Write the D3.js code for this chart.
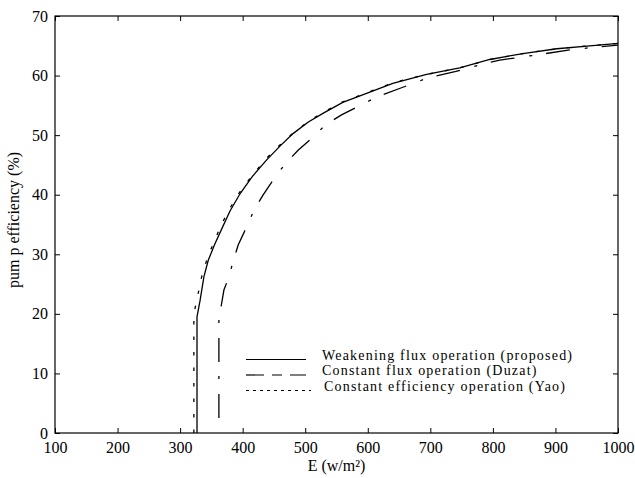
<!DOCTYPE html>
<html>
<head>
<meta charset="utf-8">
<script src="https://cdn.jsdelivr.net/npm/d3@7"></script>
<style>
  body { margin: 0; background: #fff; }
  text { font-family: "Liberation Serif", "Times New Roman", serif; }
</style>
</head>
<body>
<div class="canva"></div>
<script>
// irradiance E (w/m2) and pump efficiency (%)
var proposedE   = [327, 327, 332, 338, 345, 355, 368, 380, 396, 415, 438, 460, 481, 505, 529, 560, 598, 640, 694, 747, 795, 848, 902, 955, 1000];
var proposedEff = [0, 19.5, 22.3, 26.2, 29.0, 31.6, 34.6, 37.3, 40.2, 43.0, 45.8, 48.2, 50.3, 52.2, 53.7, 55.5, 57.0, 58.7, 60.2, 61.3, 62.7, 63.7, 64.5, 65.0, 65.4];

var duzatE   = [362, 362, 366, 370, 378, 385, 393, 409, 418, 433, 452, 469, 489, 516, 532, 558, 590, 614, 655, 696, 741, 783, 811, 872, 923, 966, 1000];
var duzatEff = [2.5, 19.8, 21.5, 24.0, 26.2, 28.9, 31.6, 35.2, 37.4, 40.0, 43.0, 45.3, 47.5, 50.0, 51.7, 53.4, 55.1, 56.4, 58.0, 59.6, 60.7, 61.9, 62.6, 63.5, 64.3, 64.8, 65.1];

var yaoE   = [322, 322, 328, 335, 345, 356, 366, 380, 395, 415, 437, 460, 481, 505, 530, 560, 598, 640, 694, 747, 795, 848, 902, 955, 1000];
var yaoEff = [0, 20.0, 23.0, 26.5, 29.8, 32.5, 35.0, 37.8, 40.4, 43.2, 46.0, 48.4, 50.4, 52.3, 53.9, 55.6, 57.1, 58.8, 60.2, 61.3, 62.7, 63.7, 64.5, 65.0, 65.4];

var xTicks = [100, 200, 300, 400, 500, 600, 700, 800, 900, 1000];
var yTicks = [0, 10, 20, 30, 40, 50, 60, 70];

var legendLabels = ["Weakening flux operation (proposed)",
                    "Constant flux operation (Duzat)",
                    "Constant efficiency operation (Yao)"];

const width = 635, height = 478;
const margin = {top: 16, right: 17, bottom: 45, left: 55};
const graphWidth = width - margin.left - margin.right;
const graphHeight = height - margin.top - margin.bottom;

const svg = d3.select(".canva").append("svg")
    .attr("width", width)
    .attr("height", height);

const g = svg.append("g")
    .attr("transform", `translate(${margin.left}, ${margin.top})`);

var x = d3.scaleLinear().domain([100, 1000]).range([0, graphWidth]);
var y = d3.scaleLinear().domain([0, 70]).range([graphHeight, 0]);

// axes, ticks pointing inward on all four sides
g.append("g")
    .attr("transform", `translate(0, ${graphHeight})`)
    .call(d3.axisBottom(x).tickValues(xTicks).tickFormat(d3.format("d"))
            .tickSizeInner(-5).tickSizeOuter(0).tickPadding(9))
    .call(a => a.select(".domain").remove());
g.append("g")
    .call(d3.axisTop(x).tickValues(xTicks).tickSizeInner(-5).tickSizeOuter(0).tickFormat(""))
    .call(a => a.select(".domain").remove());
g.append("g")
    .call(d3.axisLeft(y).tickValues(yTicks).tickSizeInner(-5).tickSizeOuter(0).tickPadding(7))
    .call(a => a.select(".domain").remove());
g.append("g")
    .attr("transform", `translate(${graphWidth}, 0)`)
    .call(d3.axisRight(y).tickValues(yTicks).tickSizeInner(-5).tickSizeOuter(0).tickFormat(""))
    .call(a => a.select(".domain").remove());

g.selectAll(".tick text")
    .attr("fill", "#000")
    .style("font-size", "16px")
    .style("font-family", "'Liberation Serif', serif");
g.selectAll(".tick line").attr("stroke", "#000");

g.append("rect")
    .attr("width", graphWidth)
    .attr("height", graphHeight)
    .attr("fill", "none")
    .attr("stroke", "#000")
    .attr("stroke-width", 1.2);

// curves
var series = [
  {E: proposedE, eff: proposedEff, dash: null},
  {E: duzatE, eff: duzatEff, dash: "24,15,3,14"},
  {E: yaoE, eff: yaoEff, dash: "3.5,12"}
];

var valueLine = d3.line()
    .x(d => x(d[0]))
    .y(d => y(d[1]));

series.forEach(function(s) {
  g.append("path")
    .datum(s.E.map((e, i) => [e, s.eff[i]]))
    .attr("fill", "none")
    .attr("stroke", "#000")
    .attr("stroke-width", 1.3)
    .attr("stroke-dasharray", s.dash)
    .attr("d", valueLine);
});

// legend
var legendDash = [null, "18,8,10,8", "3,4"];
var legendLen = [60, 60, 65];
var legend = g.append("g").attr("transform", "translate(191, 343.5)");
legendLabels.forEach(function(t, i) {
  legend.append("line")
    .attr("x1", 0).attr("x2", legendLen[i])
    .attr("y1", i * 15.5).attr("y2", i * 15.5)
    .attr("stroke", "#000")
    .attr("stroke-width", 1.2)
    .attr("stroke-dasharray", legendDash[i]);
  legend.append("text")
    .attr("x", i == 2 ? 78 : 76)
    .attr("y", i * 15.5)
    .style("font-size", "14px")
    .style("letter-spacing", "1.2px")
    .text(t);
});

// axis titles
svg.append("text")
    .attr("x", margin.left + graphWidth / 2)
    .attr("y", 471)
    .attr("text-anchor", "middle")
    .style("font-size", "16px")
    .text("E (w/m²)");

svg.append("text")
    .attr("transform", "translate(19, 220) rotate(-90)")
    .attr("text-anchor", "middle")
    .style("font-size", "16px")
    .text("pum p efficiency (%)");
</script>
</body>
</html>
